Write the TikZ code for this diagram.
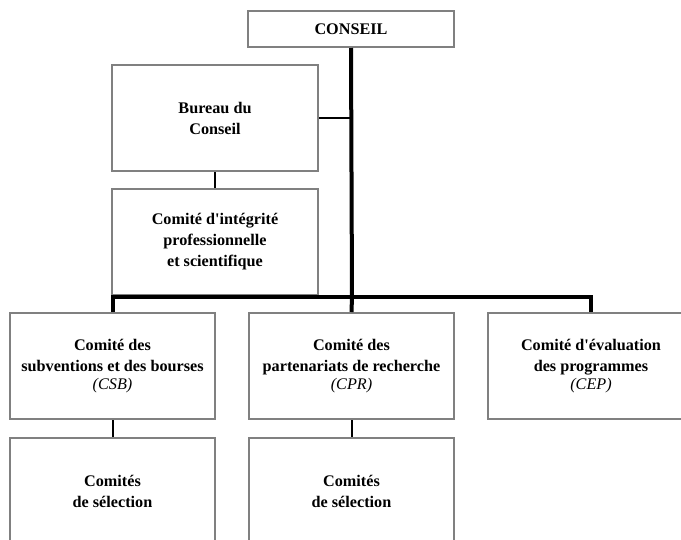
\documentclass[tikz,border=0pt]{standalone}
\usepackage{fontspec}
\setmainfont{Liberation Serif}
\definecolor{boxgray}{RGB}{128,128,128}
\begin{document}
\begin{tikzpicture}[x=1pt,y=-1pt,
  orgbox/.style={draw=boxgray, line width=2pt, rectangle, inner sep=0pt,
    minimum width=206pt, minimum height=106pt, align=center,
    font=\bfseries\fontsize{16.2}{21}\selectfont},
  bus/.style={line width=4pt, draw=black},
  link/.style={line width=2pt, draw=black}]
\useasboundingbox (0,0) rectangle (681,539);
\clip (0,0) rectangle (681,539);
\node[orgbox, minimum height=36pt] (conseil) at (351,29) {CONSEIL};
\node[orgbox] (bureau) at (215,118) {Bureau du\\Conseil};
\node[orgbox] (cipe) at (215,242) {Comité d\textquotesingle intégrité\\professionnelle\\et scientifique};
\node[orgbox, minimum width=205pt] (csb) at (112.5,366) {Comité des\\subventions et des bourses\\[-3pt]{\mdseries\itshape (CSB)}};
\node[orgbox, minimum width=205pt] (cpr) at (351.5,366) {Comité des\\partenariats de recherche\\[-3pt]{\mdseries\itshape (CPR)}};
\node[orgbox] (cep) at (591,366) {Comité d\textquotesingle évaluation\\des programmes\\[-3pt]{\mdseries\itshape (CEP)}};
\node[orgbox, minimum width=205pt] (sel1) at (112.5,491) {Comités\\de sélection};
\node[orgbox, minimum width=205pt] (sel2) at (351.5,491) {Comités\\de sélection};
\coordinate (hub) at (352,297);
\draw[bus] (conseil.south) -- (hub);
\draw[bus] (hub) -- (cpr.north);
\draw[bus] (csb.north) |- (hub);
\draw[bus] (hub) -| (cep.north);
\draw[link] (bureau.east) -- (bureau.east -| hub);
\draw[link] (bureau.south) -- (cipe.north);
\draw[link] (csb.south) -- (sel1.north);
\draw[link] (cpr.south) -- (sel2.north);
\end{tikzpicture}
\end{document}
